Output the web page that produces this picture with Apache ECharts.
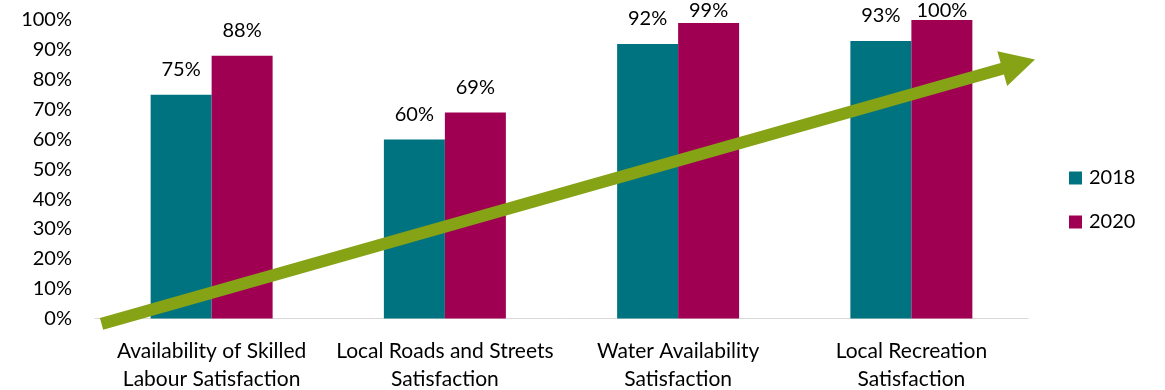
<!DOCTYPE html>
<html><head><meta charset="utf-8">
<script src="https://cdn.jsdelivr.net/npm/echarts@6/dist/echarts.min.js"></script>
<style>html,body{margin:0;padding:0;background:#fff}#c{width:1165px;height:390px}</style>
</head><body><div id="c"></div>
<script>
const categories = ['Availability of Skilled\nLabour Satisfaction', 'Local Roads and Streets\nSatisfaction', 'Water Availability\nSatisfaction', 'Local Recreation\nSatisfaction'];
const values2018 = [75, 60, 92, 93];
const values2020 = [88, 69, 99, 100];
const yTicks = {min: 0, max: 100, interval: 10};
// trend arrow (decorative): [fraction across the category span, percent]
const trendStart = [0.007, -1.8];
const trendTip = [1.0075, 86.8];

const font = "Lato, 'Open Sans', sans-serif";
const fs = 20;
const clampTop = function (params) {
  const r = params.labelRect;
  return {dy: Math.max(0, 1 - r.y)};
};

function renderArrow(params, api) {
  const p0 = api.coord([api.value(0), api.value(1)]);
  const p1 = api.coord([api.value(2), api.value(3)]);
  const dx = p1[0] - p0[0], dy = p1[1] - p0[1];
  const len = Math.sqrt(dx * dx + dy * dy);
  const ux = dx / len, uy = dy / len;
  const nx = -uy, ny = ux;
  const sw = 6, hl = 34, hw = 18;
  const bx = p1[0] - ux * hl, by = p1[1] - uy * hl;
  const pts = [
    [p0[0] + nx * sw, p0[1] + ny * sw],
    [bx + nx * sw, by + ny * sw],
    [bx + nx * hw, by + ny * hw],
    [p1[0], p1[1]],
    [bx - nx * hw, by - ny * hw],
    [bx - nx * sw, by - ny * sw],
    [p0[0] - nx * sw, p0[1] - ny * sw]
  ];
  return {type: 'polygon', shape: {points: pts}, style: {fill: '#86A316'}};
}

const chart = echarts.init(document.getElementById('c'));
chart.setOption({
  animation: false,
  textStyle: {fontFamily: font},
  grid: {left: 95, right: 137, top: 20, bottom: 71.5, containLabel: false, outerBoundsMode: 'none'},
  legend: {
    orient: 'vertical', left: 1064, top: 163, itemWidth: 13, itemHeight: 13, itemGap: 24,
    icon: 'rect',
    textStyle: {fontSize: fs, color: '#000', fontFamily: font, padding: [0,0,0,2]},
    data: ['2018', '2020']
  },
  xAxis: [{
    type: 'category', data: categories,
    axisLine: {lineStyle: {color: '#D9D9D9', width: 1}},
    axisTick: {show: false},
    axisLabel: {fontSize: 21, color: '#000', lineHeight: 28, margin: 19, interval: 0, fontFamily: font}
  }, {
    type: 'value', min: 0, max: 1, show: false
  }],
  yAxis: {
    type: 'value', min: yTicks.min, max: yTicks.max, interval: yTicks.interval,
    axisLine: {show: false}, axisTick: {show: false}, splitLine: {show: false},
    axisLabel: {formatter: '{value}%', fontSize: fs, color: '#000', margin: 23, fontFamily: font}
  },
  series: [{
    name: '2018', type: 'bar', data: values2018, barGap: '0%', barCategoryGap: '47.7%',
    itemStyle: {color: '#007380'},
    label: {show: true, position: 'top', distance: 15, formatter: '{c}%', fontSize: fs, color: '#000', fontFamily: font},
    labelLayout: clampTop
  }, {
    name: '2020', type: 'bar', data: values2020,
    itemStyle: {color: '#A00052'},
    label: {show: true, position: 'top', distance: 15, formatter: '{c}%', fontSize: fs, color: '#000', fontFamily: font},
    labelLayout: clampTop
  }, {
    name: 'trend', type: 'custom', xAxisIndex: 1, yAxisIndex: 0, silent: true, clip: false, z: 5,
    renderItem: renderArrow,
    data: [[trendStart[0], trendStart[1], trendTip[0], trendTip[1]]]
  }]
});
</script></body></html>
